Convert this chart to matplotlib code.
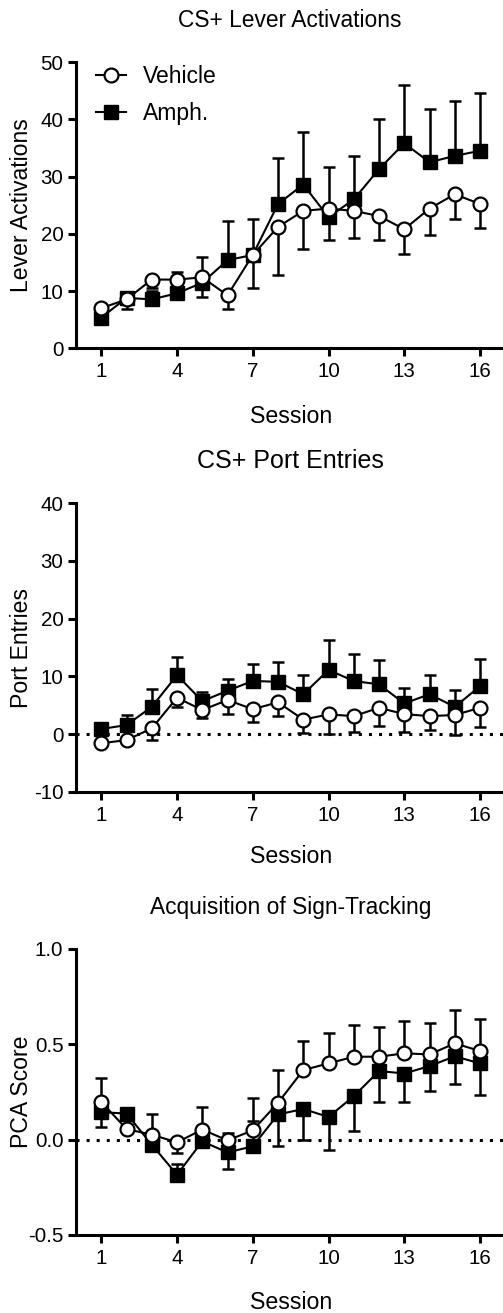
"""Amphetamine vs vehicle: lever, port and PCA score across sessions."""
import numpy as np
import matplotlib
matplotlib.use("Agg")
import matplotlib.pyplot as plt
from matplotlib.lines import Line2D
from matplotlib.ticker import FormatStrFormatter

plt.rcParams["font.family"] = ["Liberation Sans", "DejaVu Sans"]
plt.rcParams["axes.unicode_minus"] = False

# Data
sessions = list(range(1, 17))
session_ticks = [1, 4, 7, 10, 13, 16]

lever_veh = [7.0, 8.55, 12.0, 12.0, 12.4, 9.25, 16.3, 21.2, 24.0, 24.4, 24.0, 23.1, 20.8, 24.4, 26.9, 25.2]
lever_veh_sem = [0.6, 1.75, 1.5, 1.0, 3.4, 2.45, 5.7, 8.4, 6.6, 5.4, 4.8, 4.2, 4.3, 4.6, 4.3, 4.2]
lever_amph = [5.35, 8.8, 8.55, 9.6, 11.45, 15.4, 16.3, 25.2, 28.6, 22.9, 26.0, 31.3, 35.8, 32.5, 33.6, 34.5]
lever_amph_sem = [0.6, 0.9, 1.5, 3.8, 4.55, 6.9, 6.2, 8.0, 9.1, 8.8, 7.6, 8.8, 10.2, 9.3, 9.6, 10.1]

port_veh = [-1.6, -1.05, 0.97, 6.3, 4.15, 5.9, 4.3, 5.5, 2.5, 3.4, 3.1, 4.55, 3.45, 3.1, 3.3, 4.55]
port_veh_sem = [0.5, 0.5, 2.0, 1.6, 1.45, 2.5, 2.2, 2.4, 2.3, 3.4, 2.7, 3.15, 3.05, 2.4, 3.4, 3.25]
port_amph = [0.87, 1.55, 4.7, 10.2, 5.7, 7.5, 9.2, 9.05, 6.9, 11.1, 9.2, 8.6, 5.3, 6.9, 4.7, 8.3]
port_amph_sem = [0.5, 1.75, 3.1, 3.2, 1.5, 2.1, 2.9, 3.45, 3.3, 5.2, 4.6, 4.2, 2.6, 3.3, 2.9, 4.7]

pca_veh = [0.198, 0.056, 0.026, -0.014, 0.053, -0.004, 0.049, 0.193, 0.365, 0.40, 0.435, 0.435, 0.453, 0.447, 0.505, 0.465]
pca_veh_sem = [0.127, 0.02, 0.11, 0.056, 0.12, 0.15, 0.17, 0.17, 0.152, 0.158, 0.165, 0.158, 0.17, 0.167, 0.175, 0.167]
pca_amph = [0.144, 0.137, -0.026, -0.184, -0.009, -0.067, -0.035, 0.132, 0.161, 0.119, 0.228, 0.36, 0.347, 0.386, 0.437, 0.40]
pca_amph_sem = [0.077, 0.02, 0.06, 0.054, 0.03, 0.10, 0.135, 0.164, 0.161, 0.172, 0.18, 0.164, 0.147, 0.132, 0.144, 0.167]

W, H = 503, 1313
fig = plt.figure(figsize=(W / 100, H / 100), dpi=100)


def px(x, y):
    """Pixel position -> figure fraction."""
    return x / W, 1 - y / H


def one_sided(mean, sem, above):
    # GraphPad style: "above" = away from zero, otherwise toward zero
    mean = np.asarray(mean)
    sem = np.asarray(sem)
    d = np.where(mean >= 0, 1, -1) * (1 if above else -1)
    upper = np.where(d > 0, sem, 0)
    lower = np.where(d < 0, sem, 0)
    return [lower, upper]


def draw_panel(top, bottom, veh, veh_sem, amph, amph_sem, ylim, yticks, veh_above):
    ax = fig.add_axes([76 / W, 1 - bottom / H, 429.3 / W, (bottom - top) / H])
    ax.set_xlim(0, 17)
    ax.set_ylim(*ylim)
    ax.axhline(0, color="black", lw=2.2, linestyle=(0, (1, 2.3)), zorder=2.6)

    err_kw = dict(fmt="none", ecolor="black", elinewidth=1.8, capsize=4.5, capthick=1.8)
    ax.errorbar(sessions, amph, yerr=one_sided(amph, amph_sem, not veh_above), zorder=3, **err_kw)
    ax.plot(sessions, amph, color="black", lw=1.5, marker="s", ms=9.5,
            mfc="black", mec="black", zorder=4)
    ax.errorbar(sessions, veh, yerr=one_sided(veh, veh_sem, veh_above), zorder=5, **err_kw)
    ax.plot(sessions, veh, color="black", lw=1.5, marker="o", ms=10,
            mfc="white", mec="black", mew=1.6, zorder=6)

    ax.spines["top"].set_visible(False)
    ax.spines["right"].set_visible(False)
    ax.spines["left"].set_linewidth(2.2)
    ax.spines["bottom"].set_linewidth(2.2)
    ax.set_xticks(session_ticks)
    ax.set_yticks(yticks)
    ax.tick_params(axis="x", length=6, width=2.2, pad=4, labelsize=14.8)
    ax.tick_params(axis="y", length=6, width=2.2, pad=3, labelsize=14.8)
    return ax


ax1 = draw_panel(62, 348.3, lever_veh, lever_veh_sem, lever_amph, lever_amph_sem,
                 (0, 50), [0, 10, 20, 30, 40, 50], veh_above=False)
ax2 = draw_panel(503.3, 791.7, port_veh, port_veh_sem, port_amph, port_amph_sem,
                 (-10, 40), [-10, 0, 10, 20, 30, 40], veh_above=False)
ax3 = draw_panel(949, 1235, pca_veh, pca_veh_sem, pca_amph, pca_amph_sem,
                 (-0.5, 1.0), [-0.5, 0.0, 0.5, 1.0], veh_above=True)
ax3.yaxis.set_major_formatter(FormatStrFormatter("%.1f"))

# legend
handles = [
    Line2D([], [], color="black", lw=1.5, marker="o", ms=10, mfc="white", mec="black", mew=1.6),
    Line2D([], [], color="black", lw=1.5, marker="s", ms=9.5, mfc="black", mec="black"),
]
ax1.legend(handles, ["Vehicle", "Amph."], loc="upper left", bbox_to_anchor=(0.026, 1.02),
           frameon=False, fontsize=16.5, handlelength=1.3, handletextpad=0.72,
           labelspacing=0.6, borderaxespad=0)

# titles, axis labels
fig.text(*px(290, 27), "CS+ Lever Activations", ha="center", va="baseline", fontsize=16.4)
fig.text(*px(290.5, 468.3), "CS+ Port Entries", ha="center", va="baseline", fontsize=18)
fig.text(*px(291, 914), "Acquisition of Sign-Tracking", ha="center", va="baseline", fontsize=16.4)

for y in [423.3, 863.3, 1309]:
    fig.text(*px(291, y), "Session", ha="center", va="baseline", fontsize=16.7)

fig.text(*px(22, 205), "Lever Activations", rotation=90, ha="center", va="center", fontsize=16.6)
fig.text(*px(22, 647.5), "Port Entries", rotation=90, ha="center", va="center", fontsize=16.6)
fig.text(*px(22, 1092), "PCA Score", rotation=90, ha="center", va="center", fontsize=16.6)

fig.savefig("out.png", dpi=100)
